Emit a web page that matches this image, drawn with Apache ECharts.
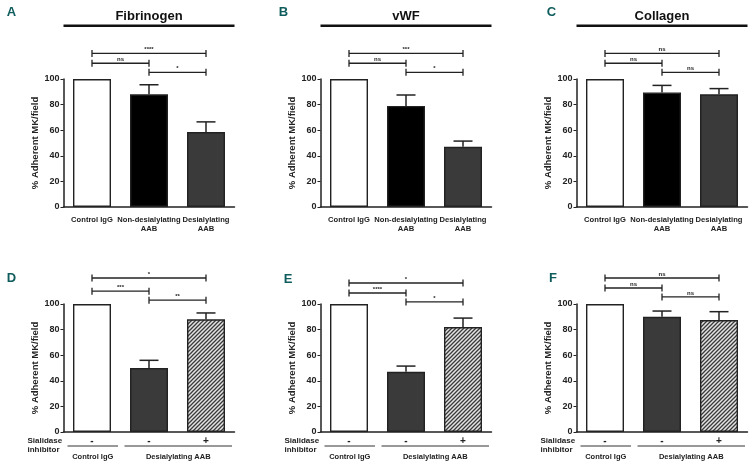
<!DOCTYPE html>
<html>
<head>
<meta charset="utf-8">
<script src="https://cdn.jsdelivr.net/npm/echarts@6/dist/echarts.min.js"></script>
<style>
html,body{margin:0;padding:0;background:#fff;}
#chart{width:756px;height:471px;}
</style>
</head>
<body>
<div id="chart"></div>
<script>
// ---------------- DATA ----------------
const panelLetters = ['A', 'B', 'C', 'D', 'E', 'F'];
const topTitles = ['Fibrinogen', 'vWF', 'Collagen'];
const topCategories = ['Control IgG', 'Non-desialylating\nAAB', 'Desialylating\nAAB'];
const inhibitorLabels = ['-', '-', '+'];
const inhibitorRowLabel = 'Sialidase\ninhibitor';
const groupNames = ['Control IgG', 'Desialylating AAB'];
const groupSpans = [[0, 0], [1, 2]];
const yAxisName = '% Adherent MK/field';

const meanA = [100, 88, 58.5];
const semA  = [0, 7.5, 8];
const meanB = [100, 79, 47];
const semB  = [0, 8.5, 4.5];
const meanC = [100, 89.5, 88];
const semC  = [0, 5.5, 4.5];
const meanD = [100, 50, 88];
const semD  = [0, 6, 5];
const meanE = [100, 47, 82];
const semE  = [0, 4.5, 7];
const meanF = [100, 90, 87.5];
const semF  = [0, 4.5, 6.5];

const sigA = [['****', 0, 2], ['ns', 0, 1], ['*', 1, 2]];
const sigB = [['***', 0, 2], ['ns', 0, 1], ['*', 1, 2]];
const sigC = [['ns', 0, 2], ['ns', 0, 1], ['ns', 1, 2]];
const sigD = [['*', 0, 2], ['***', 0, 1], ['**', 1, 2]];
const sigE = [['*', 0, 2], ['****', 0, 1], ['*', 1, 2]];
const sigF = [['ns', 0, 2], ['ns', 0, 1], ['ns', 1, 2]];

// ---------------- LAYOUT / STYLE ----------------
const FONT = '"Liberation Sans", Arial, sans-serif';
const colLeft = [63.5, 320.5, 576.5];
const gridW = 171;
const rowTop = [79, 304];
const gridH = 128;
const bracketLevels = [
  [120, 112.3, 105.2], [120, 112.3, 105.2], [120, 112.3, 105.2],
  [120.3, 110, 103], [116.4, 108.6, 101.6], [120.3, 112.5, 105.5]
];
const dark = '#222';

function hatch() {
  const s = 4;
  const c = document.createElement('canvas');
  c.width = s; c.height = s;
  const g = c.getContext('2d');
  g.fillStyle = '#e4e4e4';
  g.fillRect(0, 0, s, s);
  g.strokeStyle = '#3a3a3a';
  g.lineWidth = 1.3;
  g.beginPath();
  g.moveTo(-1, 1); g.lineTo(1, -1);
  g.moveTo(0, s); g.lineTo(s, 0);
  g.moveTo(s - 1, s + 1); g.lineTo(s + 1, s - 1);
  g.stroke();
  return c;
}
const hatchPattern = { image: hatch(), repeat: 'repeat' };

const topFills = ['#ffffff', '#000000', '#3a3a3a'];
const botFills = ['#ffffff', '#3a3a3a', hatchPattern];

const panels = [
  { mean: meanA, sem: semA, sig: sigA, fills: topFills, row: 0, col: 0 },
  { mean: meanB, sem: semB, sig: sigB, fills: topFills, row: 0, col: 1 },
  { mean: meanC, sem: semC, sig: sigC, fills: topFills, row: 0, col: 2 },
  { mean: meanD, sem: semD, sig: sigD, fills: botFills, row: 1, col: 0 },
  { mean: meanE, sem: semE, sig: sigE, fills: botFills, row: 1, col: 1 },
  { mean: meanF, sem: semF, sig: sigF, fills: botFills, row: 1, col: 2 }
];

const grid = [], xAxis = [], yAxis = [], series = [], graphic = [];

panels.forEach((p, k) => {
  grid.push({ left: colLeft[p.col], top: rowTop[p.row], width: gridW, height: gridH });
  const isTop = p.row === 0;
  xAxis.push({
    type: 'category', gridIndex: k,
    data: isTop ? topCategories : inhibitorLabels,
    axisLine: { lineStyle: { color: dark, width: 1.5 } },
    axisTick: { alignWithLabel: true, length: 3, lineStyle: { color: dark, width: 1 } },
    axisLabel: isTop
      ? { interval: 0, fontFamily: FONT, fontWeight: 'bold', fontSize: 7.6, lineHeight: 9, color: dark, margin: 8 }
      : { interval: 0, fontFamily: FONT, fontWeight: 'bold', fontSize: 10, color: dark, margin: 4 }
  });
  yAxis.push({
    type: 'value', gridIndex: k, min: 0, max: 100, interval: 20,
    splitLine: { show: false },
    axisLine: { show: true, lineStyle: { color: dark, width: 1.5 } },
    axisTick: { show: true, length: 3, lineStyle: { color: dark, width: 1 } },
    axisLabel: { fontFamily: FONT, fontWeight: 'bold', fontSize: 9, color: dark, margin: 4 },
    name: yAxisName, nameLocation: 'middle', nameGap: 21,
    nameTextStyle: { fontFamily: FONT, fontWeight: 'bold', fontSize: 9.5, color: dark }
  });
  series.push({
    type: 'bar', xAxisIndex: k, yAxisIndex: k, barWidth: 38,
    data: p.mean.map((v, i) => ({
      value: v,
      itemStyle: { color: p.fills[i], borderColor: dark, borderWidth: 1.4 }
    })),
    silent: true, animation: false
  });
  // error bars (upper only, with cap)
  series.push({
    type: 'custom', xAxisIndex: k, yAxisIndex: k, animation: false, silent: true, z: 5,
    data: p.mean.map((v, i) => [i, v, p.sem[i]]),
    renderItem: (params, api) => {
      const e = api.value(2);
      if (!e) return null;
      const base = api.coord([api.value(0), api.value(1)]);
      const top = api.coord([api.value(0), api.value(1) + e]);
      const hw = 9.5;
      return {
        type: 'group', children: [
          { type: 'line', shape: { x1: base[0], y1: base[1], x2: top[0], y2: top[1] }, style: { stroke: dark, lineWidth: 1.5 } },
          { type: 'line', shape: { x1: top[0] - hw, y1: top[1], x2: top[0] + hw, y2: top[1] }, style: { stroke: dark, lineWidth: 1.5 } }
        ]
      };
    }
  });
  // significance brackets
  const levels = bracketLevels[k];
  series.push({
    type: 'custom', xAxisIndex: k, yAxisIndex: k, animation: false, silent: true, clip: false,
    data: p.sig.map((s, j) => [s[1], s[2], levels[j]]),
    renderItem: (params, api) => {
      const a = api.coord([api.value(0), api.value(2)]);
      const b = api.coord([api.value(1), api.value(2)]);
      const lbl = p.sig[params.dataIndex][0];
      const st = { stroke: dark, lineWidth: 1.3 };
      return {
        type: 'group', children: [
          { type: 'line', shape: { x1: a[0], y1: a[1], x2: b[0], y2: b[1] }, style: st },
          { type: 'line', shape: { x1: a[0], y1: a[1] - 3.5, x2: a[0], y2: a[1] + 3.5 }, style: st },
          { type: 'line', shape: { x1: b[0], y1: b[1] - 3.5, x2: b[0], y2: b[1] + 3.5 }, style: st },
          { type: 'text', x: (a[0] + b[0]) / 2, y: a[1] - 4,
            style: { text: lbl, fontFamily: FONT, fontWeight: 'bold', fontSize: 6, fill: dark, align: 'center', verticalAlign: 'middle' } }
        ]
      };
    }
  });
  if (!isTop) {
    series.push({
      type: 'custom', xAxisIndex: k, yAxisIndex: k, animation: false, silent: true, clip: false,
      data: groupSpans.map((g, j) => [g[0], g[1], j]),
      renderItem: (params, api) => {
        const band = api.size([1, 0])[0];
        const y0 = api.coord([0, 0])[1];
        const x1 = api.coord([api.value(0), 0])[0] - band / 2 + 4;
        const x2 = api.coord([api.value(1), 0])[0] + band / 2 - 2.5;
        const children = [
          { type: 'line', shape: { x1: x1, y1: y0 + 14, x2: x2, y2: y0 + 14 }, style: { stroke: '#333', lineWidth: 1 } },
          { type: 'text', x: (x1 + x2) / 2, y: y0 + 24.5,
            style: { text: groupNames[params.dataIndex], fontFamily: FONT, fontWeight: 'bold', fontSize: 7.5, fill: dark, align: 'center', verticalAlign: 'middle' } }
        ];
        if (params.dataIndex === 0) {
          const axX = api.coord([0, 0])[0] - band / 2;
          children.push({ type: 'text', x: axX - 36, y: y0 + 13.5,
            style: { text: inhibitorRowLabel, fontFamily: FONT, fontWeight: 'bold', fontSize: 8, lineHeight: 9.5, fill: dark, align: 'left', verticalAlign: 'middle' } });
        }
        return { type: 'group', children: children };
      }
    });
  }
});

// panel titles + underline (top row)
topTitles.forEach((t, c) => {
  const cx = colLeft[c] + gridW / 2;
  graphic.push({ type: 'text', x: cx, y: 16.5,
    style: { text: t, fontFamily: FONT, fontWeight: 'bold', fontSize: 13, fill: '#111', align: 'center', verticalAlign: 'middle' } });
  graphic.push({ type: 'line', shape: { x1: colLeft[c], y1: 25.8, x2: colLeft[c] + gridW, y2: 25.8 }, style: { stroke: '#111', lineWidth: 2.6 } });
});
// panel letters
const letterPos = [[11.5, 12], [283.5, 12.5], [551.5, 12.5], [11.5, 278], [288, 279.5], [553, 278]];
panelLetters.forEach((L, i) => {
  graphic.push({ type: 'text', x: letterPos[i][0], y: letterPos[i][1],
    style: { text: L, fontFamily: '"Liberation Sans Narrow", "Liberation Sans", Arial, sans-serif', fontWeight: 'bold', fontSize: 13, fill: '#0f5c5d', align: 'center', verticalAlign: 'middle' } });
});

const chart = echarts.init(document.getElementById('chart'), null, { renderer: 'canvas' });
chart.setOption({ animation: false, grid, xAxis, yAxis, series, graphic });
</script>
</body>
</html>
